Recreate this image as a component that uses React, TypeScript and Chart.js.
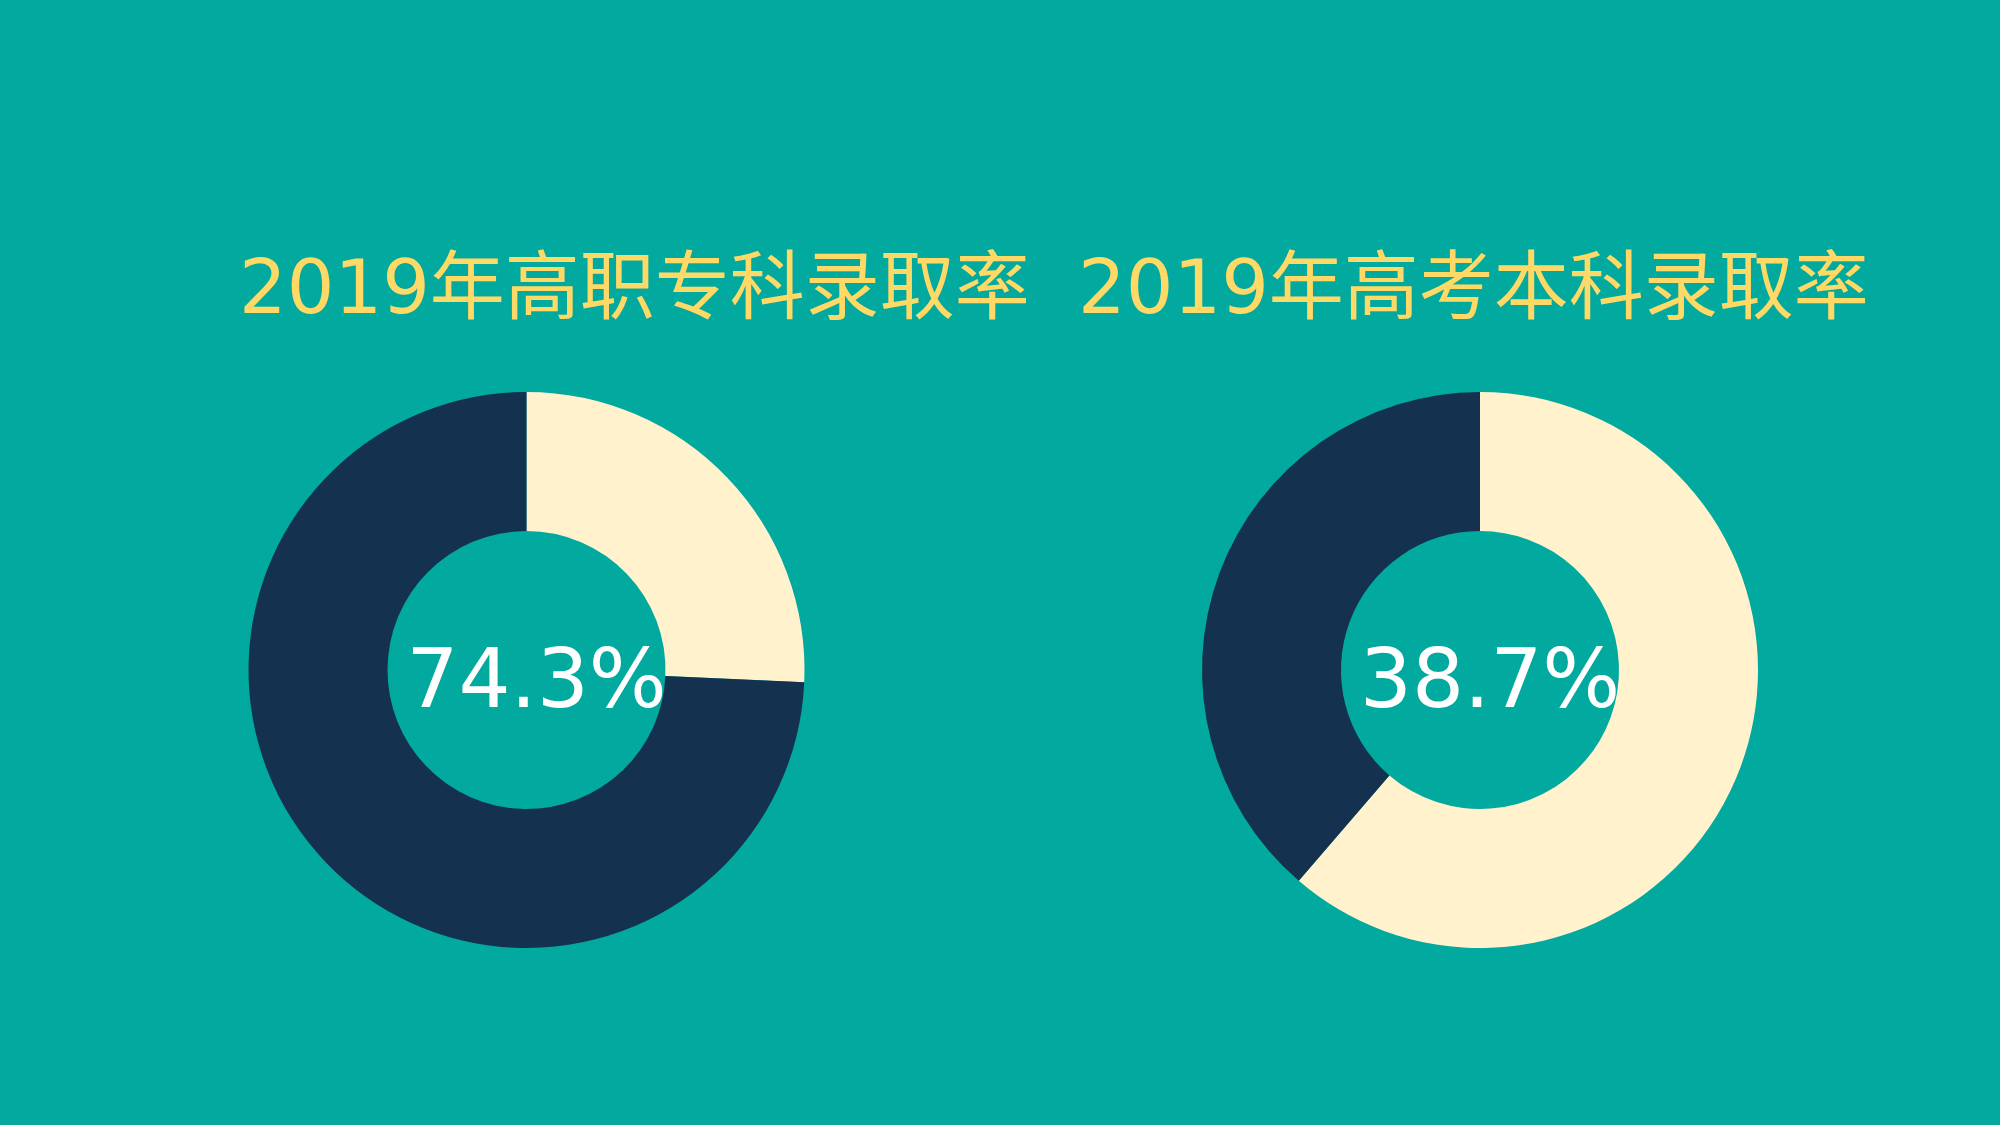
import React, { useEffect, useRef } from "react";
import { Chart, registerables } from "chart.js";

Chart.register(...registerables);

// ---- data ----
const categories = ["未录取", "录取"];
const leftValues = [25.7, 74.3];
const rightValues = [61.3, 38.7];
const titles = ["2019年高职专科录取率", "2019年高考本科录取率"];
const centerLabels = ["74.3%", "38.7%"];

// ---- styles ----
const BG = "#02A99E";
const CREAM = "#FFF2CC";
const NAVY = "#14324F";
const TITLE_COLOR = "#FFD966";
const FONT_FAMILY = '"DejaVu Sans", "Noto Sans CJK SC", sans-serif';

type PanelCfg = {
  values: number[];
  title: string;
  center: string;
  titleX: number;
  padding: { left: number; right: number; top: number; bottom: number };
};

const panels: PanelCfg[] = [
  {
    values: leftValues,
    title: titles[0],
    center: centerLabels[0],
    titleX: 239,
    padding: { left: 248, right: 1195, top: 392, bottom: 177 },
  },
  {
    values: rightValues,
    title: titles[1],
    center: centerLabels[1],
    titleX: 1078,
    padding: { left: 1202, right: 242, top: 392, bottom: 177 },
  },
];

function Panel({ cfg }: { cfg: PanelCfg }) {
  const ref = useRef<HTMLCanvasElement | null>(null);
  useEffect(() => {
    if (!ref.current) return;
    const textPlugin = {
      id: "textPlugin",
      afterDraw(chart: any) {
        const ctx = chart.ctx;
        ctx.save();
        // title
        ctx.font = `75px ${FONT_FAMILY}`;
        ctx.fillStyle = TITLE_COLOR;
        ctx.textAlign = "left";
        ctx.textBaseline = "alphabetic";
        ctx.fillText(cfg.title, cfg.titleX, 313);
        // center text
        const arc = chart.getDatasetMeta(0).data[0];
        if (arc) {
          ctx.font = `82px ${FONT_FAMILY}`;
          ctx.fillStyle = "#FFFFFF";
          ctx.textAlign = "center";
          ctx.fillText(cfg.center, arc.x + 10, arc.y + 37);
        }
        ctx.restore();
      },
    };
    const chart = new Chart(ref.current, {
      type: "doughnut",
      data: {
        labels: categories,
        datasets: [
          {
            data: cfg.values,
            backgroundColor: [CREAM, NAVY],
            borderWidth: 0,
            hoverOffset: 0,
            offset: 0,
          },
        ],
      },
      options: {
        responsive: false,
        animation: false,
        cutout: "50%",
        layout: { padding: cfg.padding },
        events: [],
        plugins: {
          legend: { display: false },
          tooltip: { enabled: false },
          title: { display: false },
        },
      },
      plugins: [textPlugin],
    });
    return () => chart.destroy();
  }, [cfg]);
  return (
    <canvas
      ref={ref}
      width={2000}
      height={1125}
      style={{ position: "absolute", left: 0, top: 0, width: 2000, height: 1125 }}
    />
  );
}

export default function App() {
  useEffect(() => {
    document.body.style.margin = "0";
  }, []);
  return (
    <div
      style={{
        position: "fixed",
        left: 0,
        top: 0,
        width: 2000,
        height: 1125,
        background: BG,
        overflow: "hidden",
      }}
    >
      <Panel cfg={panels[0]} />
      <Panel cfg={panels[1]} />
    </div>
  );
}
